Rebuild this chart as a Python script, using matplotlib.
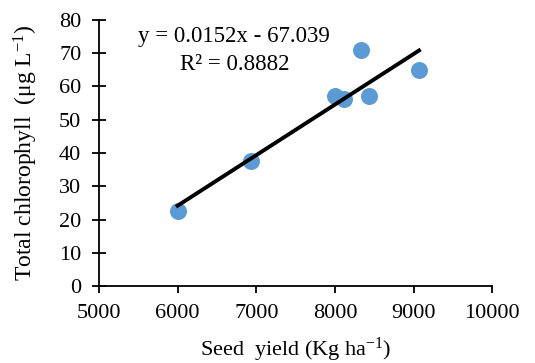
import numpy as np
import matplotlib
matplotlib.use("Agg")
import matplotlib.pyplot as plt

plt.rcParams['font.family'] = ['Liberation Serif', 'DejaVu Serif']
plt.rcParams['mathtext.fontset'] = 'custom'
plt.rcParams['mathtext.rm'] = 'Liberation Serif'
plt.rcParams['mathtext.it'] = 'Liberation Serif:italic'

# data
seed_yield = [6000, 6930, 8000, 8110, 8330, 8430, 9070]
chlorophyll = [22.5, 37.5, 57.2, 56.2, 71.0, 57.1, 65.1]
slope, intercept = 0.0152, -67.039
r2 = 0.8882

xticks = [5000, 6000, 7000, 8000, 9000, 10000]
yticks = [0, 10, 20, 30, 40, 50, 60, 70, 80]

fig = plt.figure(figsize=(5.35, 3.63), dpi=100)
ax = fig.add_axes([0.185, 0.212, 0.735, 0.733])

ax.scatter(seed_yield, chlorophyll, s=150, color='#5B9BD5', zorder=2, linewidths=0)
xfit = np.array([min(seed_yield), max(seed_yield)])
ax.plot(xfit, slope * xfit + intercept, color='black', lw=2.8, zorder=3)

ax.text(6720, 74.9, 'y = 0.0152x - 67.039', ha='center', va='center', fontsize=16.5)
ax.text(6730, 66.5, 'R² = 0.8882', ha='center', va='center', fontsize=16.5)

ax.set_xlim(5000, 10000)
ax.set_ylim(0, 80)
ax.set_xticks(xticks)
ax.set_yticks(yticks)
ax.spines['top'].set_visible(False)
ax.spines['right'].set_visible(False)
for s in ('left', 'bottom'):
    ax.spines[s].set_linewidth(1.3)
ax.tick_params(axis='y', direction='inout', length=9.4, width=1.3, labelsize=16, pad=8)
ax.tick_params(axis='x', direction='out', length=5, width=1.3, labelsize=16, pad=8)

ax.set_xlabel('Seed  yield (Kg ha$^{\\mathrm{-1}}$)', fontsize=16, labelpad=9)
ax.set_ylabel('Total chlorophyll  (μg L$^{\\mathrm{-1}}$)', fontsize=17, labelpad=14)

fig.savefig('out.png', dpi=100)
